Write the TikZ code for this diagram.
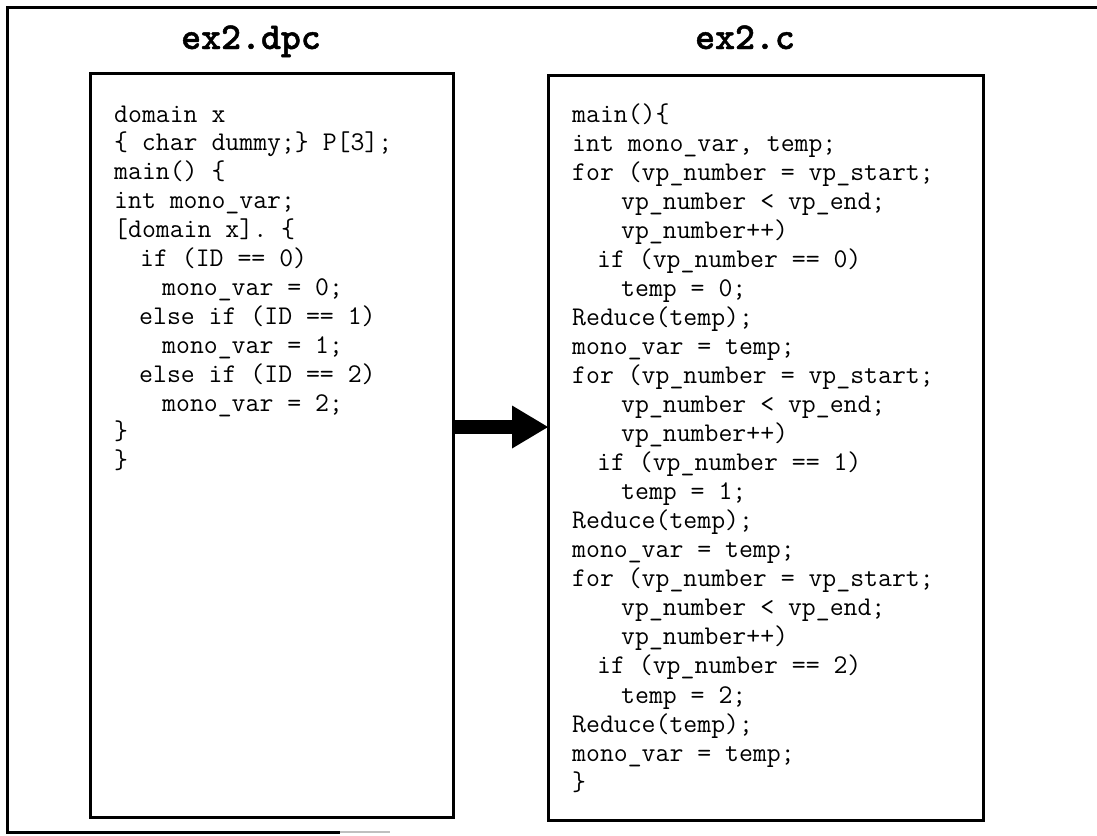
\documentclass[tikz,border=0pt]{standalone}
\usepackage{fontspec}
\usetikzlibrary{arrows.meta}
\newfontfamily\titlefont[FakeBold=1.2]{lmmonolt10-bold.otf}
% one source line: name index, indent (pt), text
\newcommand\srcL[3]{\node[codetext] (L#1) at ({114+#2},{-122-28.9*#1}) {#3};}
\newcommand\srcR[3]{\node[codetext] (R#1) at ({572+#2},{-122-29.05*#1}) {#3};}
\begin{document}
\begin{tikzpicture}[x=1pt,y=1pt,
  frame/.style={line width=3pt},
  codebox/.style={draw, line width=3pt, inner sep=0pt, outer sep=0pt},
  codetext/.style={anchor=base west, inner sep=0pt,
    font=\ttfamily\fontsize{27}{29}\selectfont\frenchspacing},
  title/.style={anchor=base, inner sep=0pt,
    font=\titlefont\fontsize{38}{40}\selectfont},
  bigarrow/.style={line width=14pt,
    -{Triangle[length=36pt, width=43pt, line width=0pt]}}]
\useasboundingbox (0,0) rectangle (1097,-835);

% outer frame
\draw[frame] (1097,-7) -- (7,-7) -- (7,-832) -- (340,-832);
\draw[line width=2pt, black!25] (340,-832) -- (390,-832);

% titles
\node[title] (tdpc) at (251,-49) {ex2.dpc};
\node[title] (tc) at (745,-49) {ex2.c};

% boxes
\node[codebox, minimum width=363pt, minimum height=744pt] (Lbox) at (271.5,-445) {};
\node[codebox, minimum width=435pt, minimum height=745pt] (Rbox) at (765.5,-447.5) {};

% translation arrow
\coordinate (ay) at (0,-427);
\draw[bigarrow] (Lbox.east |- ay) -- (Rbox.west |- ay);

% source program
\srcL{0}{0}{domain x}
\srcL{1}{0}{\{ char dummy;\} P[3];}
\srcL{2}{0}{main() \{}
\srcL{3}{0}{int mono\_var;}
\srcL{4}{0}{[domain x]. \{}
\srcL{5}{26}{if (ID == 0)}
\srcL{6}{48}{mono\_var = 0;}
\srcL{7}{25}{else if (ID == 1)}
\srcL{8}{48}{mono\_var = 1;}
\srcL{9}{25}{else if (ID == 2)}
\srcL{10}{48}{mono\_var = 2;}
\srcL{11}{0}{\}}
\srcL{12}{0}{\}}

% generated C program
\srcR{0}{0}{main()\{}
\srcR{1}{0}{int mono\_var, temp;}
\srcR{2}{0}{for (vp\_number = vp\_start;}
\srcR{3}{49}{vp\_number < vp\_end;}
\srcR{4}{49}{vp\_number++)}
\srcR{5}{25}{if (vp\_number == 0)}
\srcR{6}{49}{temp = 0;}
\srcR{7}{0}{Reduce(temp);}
\srcR{8}{0}{mono\_var = temp;}
\srcR{9}{0}{for (vp\_number = vp\_start;}
\srcR{10}{49}{vp\_number < vp\_end;}
\srcR{11}{49}{vp\_number++)}
\srcR{12}{25}{if (vp\_number == 1)}
\srcR{13}{49}{temp = 1;}
\srcR{14}{0}{Reduce(temp);}
\srcR{15}{0}{mono\_var = temp;}
\srcR{16}{0}{for (vp\_number = vp\_start;}
\srcR{17}{49}{vp\_number < vp\_end;}
\srcR{18}{49}{vp\_number++)}
\srcR{19}{25}{if (vp\_number == 2)}
\srcR{20}{49}{temp = 2;}
\srcR{21}{0}{Reduce(temp);}
\srcR{22}{0}{mono\_var = temp;}
\srcR{23}{0}{\}}
\end{tikzpicture}
\end{document}
